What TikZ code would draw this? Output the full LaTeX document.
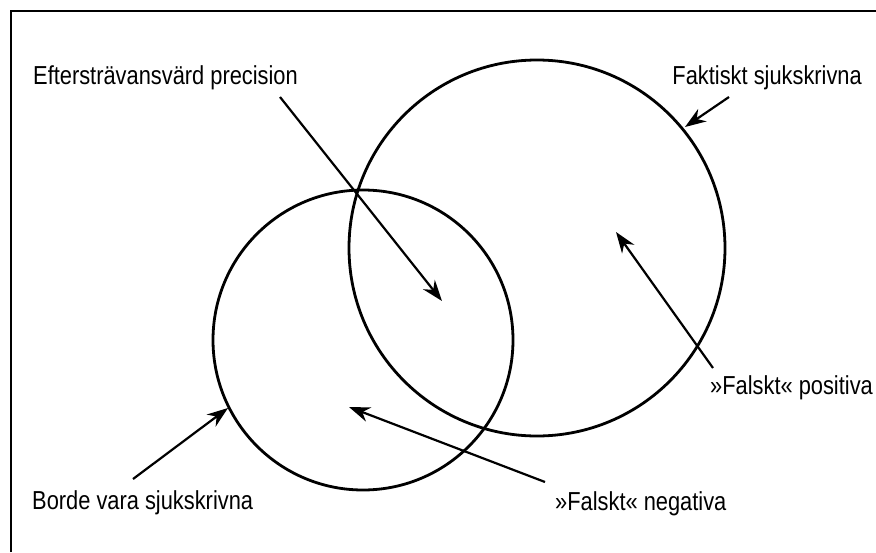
\documentclass[tikz,border=0pt]{standalone}
\usepackage{fontspec}
\setmainfont{Liberation Sans}[FakeStretch=0.84]
\usetikzlibrary{arrows.meta}

\begin{document}
\begin{tikzpicture}[x=1pt,y=-1pt,
    label/.style={font=\fontsize{26}{30}\selectfont, inner sep=0pt},
    pointer/.style={line width=2.2pt, -{Stealth[length=21pt,width=15pt]}},
    set/.style={circle, draw, line width=2.8pt, inner sep=0pt}
  ]
    \useasboundingbox (0,0) rectangle (876,552);
    % frame
    \draw[line width=1.5pt] (11,552) -- (11,11) -- (876,11);

    % the two sets
    \node[set, minimum size=376pt] (faktiska) at (537,248) {};
    \node[set, minimum size=300pt] (borde) at (363,340) {};

    % labels
    \node[label, anchor=base west] (precision) at (33,84) {Eftersträvansvärd precision};
    \node[label, anchor=base east] (faktiskt) at (862,84) {Faktiskt sjukskrivna};
    \node[label, anchor=base west] (positiva) at (710,394) {»Falskt« positiva};
    \node[label, anchor=base west] (negativa) at (555,510) {»Falskt« negativa};
    \node[label, anchor=base west] (bordevara) at (32,509) {Borde vara sjukskrivna};

    % arrow ends
    \coordinate (precision-from) at (280,97);
    \coordinate (precision-to) at (442,301);
    \coordinate (faktiskt-from) at (729,97);
    \coordinate (faktiskt-to) at (685,127);
    \coordinate (positiva-from) at (713,368);
    \coordinate (positiva-to) at (616,232);
    \coordinate (negativa-from) at (545,482);
    \coordinate (negativa-to) at (349,407);
    \coordinate (bordevara-from) at (133,479);
    \coordinate (bordevara-to) at (228,408);

    \draw[pointer] (precision-from) -- (precision-to);
    \draw[pointer] (faktiskt-from) -- (faktiskt-to);
    \draw[pointer] (positiva-from) -- (positiva-to);
    \draw[pointer] (negativa-from) -- (negativa-to);
    \draw[pointer] (bordevara-from) -- (bordevara-to);
\end{tikzpicture}
\end{document}
